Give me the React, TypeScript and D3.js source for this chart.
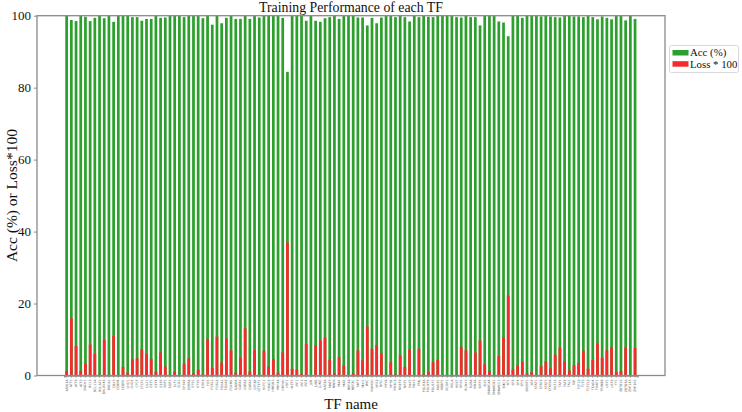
import React, { useEffect, useRef } from 'react';
import * as d3 from 'd3';

// ==== data

const tfNames = [
  'ARID3A', 'ATF1', 'ATF2', 'ATF3', 'BACH1', 'BCL3', 'BCL11A', 'BCLAF1', 'BHLHE40', 'BRCA1',
  'CBX3', 'CEBPB', 'CEBPD', 'CHD1', 'CHD2', 'CTCF', 'CTCFL', 'CUX1', 'E2F1', 'E2F4',
  'E2F6', 'EBF1', 'EGR1', 'ELF1', 'ELK1', 'EP300', 'ESRRA', 'ETS1', 'ETV6', 'EZH2',
  'FOS', 'FOSL1', 'FOSL2', 'FOXA1', 'FOXA2', 'FOXM1', 'GABPA', 'GATA1', 'GATA2', 'GATA3',
  'GTF2B', 'GTF2F1', 'HCFC1', 'HDAC2', 'HMGN3', 'HNF4A', 'HNF4G', 'HSF1', 'IKZF1', 'IRF1',
  'IRF3', 'IRF4', 'JUN', 'JUNB', 'JUND', 'KAT2A', 'MAFF', 'MAFK', 'MAX', 'MAZ',
  'MEF2A', 'MEF2C', 'MITF', 'MXI1', 'MYC', 'NANOG', 'NFE2', 'NFIC', 'NFYA', 'NFYB',
  'NR2C2', 'NR2F2', 'NRF1', 'PAX5', 'PBX3', 'PML', 'POLR2A', 'POU2F2', 'POU5F1', 'RAD21',
  'RBBP5', 'RCOR1', 'RELA', 'REST', 'RFX5', 'RUNX3', 'RXRA', 'SIN3A', 'SIRT6', 'SIX5',
  'SMARCA4', 'SMARCB1', 'SMARCC1', 'SMC3', 'SP1', 'SP2', 'SP4', 'SPI1', 'SREBF1', 'SRF',
  'STAT1', 'STAT2', 'STAT3', 'STAT5A', 'SUZ12', 'TAF1', 'TAF7', 'TAL1', 'TBP', 'TCF12',
  'TCF3', 'TCF7L2', 'TEAD4', 'THAP1', 'TRIM28', 'USF1', 'USF2', 'YY1', 'ZBTB33', 'ZBTB7A',
  'ZNF143', 'ZNF263'
];

const accValues = [
  100, 98.8, 98.5, 100, 99.7, 98.5, 99.4, 100, 99.3, 100,
  98.3, 100, 100, 100, 99.6, 99.6, 98.6, 99.1, 99.1, 100,
  99.4, 99.5, 100, 100, 100, 99.6, 100, 100, 100, 99.3,
  100, 97.5, 100, 97.9, 99.4, 100, 99.1, 99.1, 100, 99.1,
  100, 99.5, 100, 100, 100, 100, 99.4, 84.4, 100, 100,
  100, 98.6, 100, 98.6, 98.3, 99.3, 99.6, 100, 99.1, 100,
  100, 100, 99.5, 99.5, 97.3, 99.4, 97.9, 99.5, 100, 100,
  99.6, 100, 99.6, 98.4, 100, 99.6, 100, 99.7, 99.6, 100,
  100, 100, 100, 99.6, 99.5, 100, 99.6, 99.6, 97.3, 100,
  100, 100, 98.4, 98.1, 94.3, 100, 100, 99.4, 100, 100,
  100, 99.8, 100, 99.8, 99.6, 99.5, 100, 100, 99.8, 99.8,
  99.6, 100, 99.6, 99.0, 99.8, 99.4, 99.0, 100, 100, 98.7,
  100, 99.1
];

const lossValues = [
  1.3, 15.9, 8.2, 1.3, 3.3, 8.6, 6.0, 0.2, 9.9, 0.2,
  11.0, 0.1, 2.4, 0.8, 4.5, 4.8, 7.3, 6.0, 4.6, 1.1,
  6.4, 2.5, 0.1, 1.1, 0.1, 3.3, 4.8, 0.6, 1.6, 0.3,
  10.2, 2.1, 10.8, 3.6, 10.3, 7.0, 0.8, 4.9, 13.1, 1.1,
  7.1, 0.2, 6.9, 2.5, 4.6, 0.8, 6.4, 37.0, 1.9, 1.6,
  0.4, 8.8, 0.1, 8.4, 9.8, 10.5, 4.4, 0.6, 5.2, 2.8,
  0.1, 0.5, 7.0, 4.2, 13.6, 7.4, 8.5, 6.2, 0.1, 3.7,
  0.3, 5.6, 2.4, 7.2, 0.1, 7.4, 0.3, 1.0, 3.7, 4.4,
  0.1, 0.1, 0.1, 0.1, 8.0, 7.0, 0.1, 6.4, 9.7, 3.1,
  1.2, 0.1, 5.4, 10.6, 22.2, 1.7, 2.8, 3.9, 0.6, 0.9,
  0.1, 2.6, 3.9, 2.0, 5.8, 7.8, 3.9, 1.4, 2.8, 3.5,
  6.9, 1.9, 4.3, 8.9, 4.9, 7.0, 7.9, 1.0, 1.3, 7.8,
  0.1, 7.7
];

const yTicks = [0, 20, 40, 60, 80, 100];

const legendItems = [
  { label: 'Acc (%)', color: '#2ca02c' },
  { label: 'Loss * 100', color: '#f52a2a' }
];

// ==== chart

const WIDTH = 742;
const HEIGHT = 412;
const FONT = "'Liberation Serif', 'Times New Roman', serif";

const plot = { left: 37, right: 665, top: 15.7, bottom: 375.5 };

function TrainingChart() {
  const node = useRef<SVGSVGElement | null>(null);

  useEffect(() => {
    const svg = d3.select(node.current);
    svg.selectAll('*').remove();

    const x = d3.scaleBand<string>()
      .domain(tfNames)
      .range([plot.left + 27.3, plot.right - 27.6])
      .paddingInner(0.42)
      .paddingOuter(0.21);

    const y = d3.scaleLinear()
      .domain([0, 100])
      .range([plot.bottom, plot.top]);

    const rows = tfNames.map((name, i) => ({ name, acc: accValues[i], loss: lossValues[i] }));

    const g = svg.append('g');

    // acc bars
    g.selectAll('.acc')
      .data(rows)
      .enter()
      .append('rect')
      .attr('class', 'acc')
      .attr('x', (d) => x(d.name) as number)
      .attr('width', x.bandwidth())
      .attr('y', (d) => y(d.acc))
      .attr('height', (d) => y(0) - y(d.acc))
      .attr('fill', legendItems[0].color);

    // loss bars, drawn on top
    g.selectAll('.loss')
      .data(rows)
      .enter()
      .append('rect')
      .attr('class', 'loss')
      .attr('x', (d) => x(d.name) as number)
      .attr('width', x.bandwidth())
      .attr('y', (d) => y(d.loss))
      .attr('height', (d) => y(0) - y(d.loss))
      .attr('fill', legendItems[1].color);

    // frame
    svg.append('rect')
      .attr('x', plot.left)
      .attr('y', plot.top)
      .attr('width', plot.right - plot.left)
      .attr('height', plot.bottom - plot.top)
      .attr('fill', 'none')
      .attr('stroke', '#8a8a8a')
      .attr('stroke-width', 1.3);

    // y axis
    const yAxis = d3.axisLeft(y).tickValues(yTicks).tickSize(3).tickPadding(3);
    const ya = svg.append('g')
      .attr('transform', `translate(${plot.left},0)`)
      .call(yAxis);
    ya.select('.domain').remove();
    ya.selectAll('line').attr('stroke', '#8a8a8a');
    ya.selectAll('text')
      .attr('font-family', FONT)
      .attr('font-size', 13)
      .attr('fill', '#111');

    // x axis with tiny rotated names
    const xAxis = d3.axisBottom(x).tickSize(2).tickPadding(2);
    const xa = svg.append('g')
      .attr('transform', `translate(0,${plot.bottom})`)
      .call(xAxis);
    xa.select('.domain').attr('stroke', '#8a8a8a').attr('stroke-width', 1.5);
    xa.selectAll('line').attr('stroke', '#8a8a8a');
    xa.selectAll('text')
      .attr('font-family', 'DejaVu Sans, sans-serif')
      .attr('font-size', 3.2)
      .attr('fill', '#555')
      .attr('dy', null)
      .attr('y', null)
      .attr('transform', 'translate(1,4) rotate(-90)')
      .attr('text-anchor', 'end');

    // title and axis labels
    svg.append('text')
      .attr('x', (plot.left + plot.right) / 2)
      .attr('y', 11.5)
      .attr('text-anchor', 'middle')
      .attr('font-family', FONT)
      .attr('font-size', 13.8)
      .attr('fill', '#111')
      .text('Training Performance of each TF');

    svg.append('text')
      .attr('transform', `translate(17,${(plot.top + plot.bottom) / 2}) rotate(-90)`)
      .attr('text-anchor', 'middle')
      .attr('font-family', FONT)
      .attr('font-size', 15.5)
      .attr('fill', '#111')
      .text('Acc (%) or Loss*100');

    svg.append('text')
      .attr('x', (plot.left + plot.right) / 2)
      .attr('y', 408.5)
      .attr('text-anchor', 'middle')
      .attr('font-family', FONT)
      .attr('font-size', 15)
      .attr('fill', '#111')
      .text('TF name');

    // legend
    const lg = svg.append('g').attr('transform', 'translate(669.5,45.5)');
    lg.append('rect')
      .attr('width', 69)
      .attr('height', 27)
      .attr('rx', 2)
      .attr('fill', '#fff')
      .attr('stroke', '#cfcfcf')
      .attr('stroke-width', 0.8);

    const item = lg.selectAll('.item')
      .data(legendItems)
      .enter()
      .append('g')
      .attr('class', 'item')
      .attr('transform', (d, i) => `translate(3,${4.5 + i * 11.2})`);

    item.append('rect')
      .attr('width', 16)
      .attr('height', 5.5)
      .attr('fill', (d) => d.color);

    item.append('text')
      .attr('x', 17.5)
      .attr('y', 6.3)
      .attr('font-family', FONT)
      .attr('font-size', 10.8)
      .attr('fill', '#111')
      .text((d) => d.label);
  }, []);

  return (
    <svg
      ref={node}
      width={WIDTH}
      height={HEIGHT}
      style={{ position: 'absolute', left: 0, top: 0, background: '#fff' }}
    />
  );
}

export default function App() {
  return <TrainingChart />;
}
